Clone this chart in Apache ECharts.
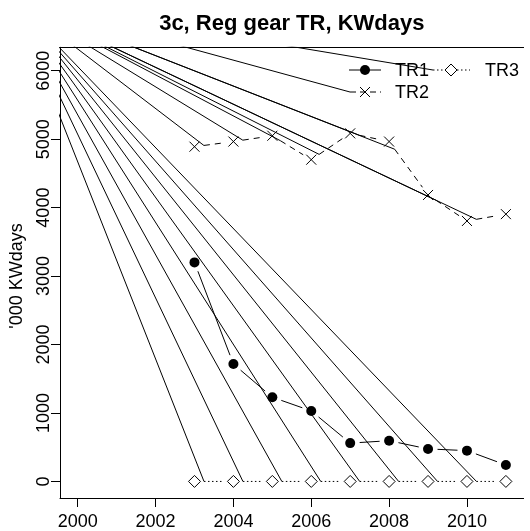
<!DOCTYPE html>
<html><head><meta charset="utf-8">
<script src="https://cdn.jsdelivr.net/npm/echarts@6/dist/echarts.min.js"></script>
<style>html,body{margin:0;padding:0;background:#fff}#c{width:530px;height:531px}</style>
</head><body><div id="c"></div>
<script>
// ---- data ----
const years = [2003, 2004, 2005, 2006, 2007, 2008, 2009, 2010, 2011];
const tr1 = [3200, 1715, 1230, 1030, 560, 595, 475, 450, 240];
const tr2 = [4890, 4965, 5050, 4700, 5085, 4965, 4185, 3805, 3905];
const tr3 = [0, 0, 0, 0, 0, 0, 0, 0, 0];
const seriesNames = ['TR1', 'TR2', 'TR3'];
const xTicks = [2000, 2002, 2004, 2006, 2008, 2010];
const yTicks = [0, 1000, 2000, 3000, 4000, 5000, 6000];
const rayOrigin = [1998.36, 7030];
const titleText = '3c, Reg gear TR, KWdays';
const yTitle = "'000 KWdays";

const FONT = '"Liberation Sans", Arial, Helvetica, sans-serif';
const chart = echarts.init(document.getElementById('c'), null, {renderer: 'canvas'});
const pairs = ys => years.map((x, i) => [x, ys[i]]);
const plain = v => String(v);
const lineBase = {type: 'line', symbol: 'none', showSymbol: false, clip: true, connectNulls: false, silent: true, data: []};

const option = {
  animation: false,
  backgroundColor: '#fff',
  grid: {left: 60, top: 47.3, width: 463.6, height: 451, show: false},
  xAxis: [{
    type: 'value', min: 1999.545, max: 2011.455, position: 'bottom',
    axisLine: {show: true, onZero: false, lineStyle: {color: '#000', width: 1}},
    axisTick: {show: true, length: 9, customValues: xTicks, lineStyle: {color: '#000'}},
    axisLabel: {customValues: xTicks, formatter: plain, fontSize: 18, fontFamily: FONT, color: '#000', margin: 15},
    splitLine: {show: false}
  }, {
    type: 'value', min: 1999.545, max: 2011.455, position: 'top',
    axisLine: {show: true, onZero: false, lineStyle: {color: '#000', width: 1}},
    axisTick: {show: false}, axisLabel: {show: false}, splitLine: {show: false}
  }],
  yAxis: [{
    type: 'value', min: -242, max: 6342, position: 'left',
    axisLine: {show: true, onZero: false, lineStyle: {color: '#000', width: 1}},
    axisTick: {show: true, length: 9, customValues: yTicks, lineStyle: {color: '#000'}},
    axisLabel: {customValues: yTicks, formatter: plain, rotate: 90, fontSize: 18, fontFamily: FONT, color: '#000', margin: 7},
    splitLine: {show: false}
  }],
  graphic: [
    {type: 'text', x: 291.8, y: 24, style: {text: titleText, fill: '#000', font: 'bold 22px ' + FONT, textAlign: 'center', textVerticalAlign: 'middle'}},
    {type: 'text', x: 17, y: 276, rotation: Math.PI / 2, style: {text: yTitle, fill: '#000', font: '18px ' + FONT, textAlign: 'center', textVerticalAlign: 'middle'}},
    // legend
    {type: 'line', shape: {x1: 349, y1: 70, x2: 381, y2: 70}, style: {stroke: '#000', lineWidth: 1}},
    {type: 'circle', shape: {cx: 365, cy: 70, r: 5}, style: {fill: '#000'}},
    {type: 'text', x: 395, y: 71, style: {text: seriesNames[0], fill: '#000', font: '18px ' + FONT, textVerticalAlign: 'middle'}},
    {type: 'line', shape: {x1: 350, y1: 92, x2: 381, y2: 92}, style: {stroke: '#000', lineWidth: 1, lineDash: [6, 4]}},
    {type: 'polyline', shape: {points: [[360, 87], [370, 97]]}, style: {stroke: '#000', lineWidth: 1, fill: null}},
    {type: 'polyline', shape: {points: [[360, 97], [370, 87]]}, style: {stroke: '#000', lineWidth: 1, fill: null}},
    {type: 'text', x: 395, y: 93, style: {text: seriesNames[1], fill: '#000', font: '18px ' + FONT, textVerticalAlign: 'middle'}},
    {type: 'line', shape: {x1: 433, y1: 70, x2: 470, y2: 70}, style: {stroke: '#000', lineWidth: 1, lineDash: [1.5, 2.5]}},
    {type: 'polygon', shape: {points: [[451, 64], [457, 70], [451, 76], [445, 70]]}, style: {fill: '#fff', stroke: '#000', lineWidth: 1}},
    {type: 'text', x: 485, y: 71, style: {text: seriesNames[2], fill: '#000', font: '18px ' + FONT, textVerticalAlign: 'middle'}}
  ],
  series: [
    Object.assign({}, lineBase, {id: 'rays', lineStyle: {color: '#000', width: 1}}),
    Object.assign({}, lineBase, {id: 'seg1', lineStyle: {color: '#000', width: 1}}),
    Object.assign({}, lineBase, {id: 'seg2', lineStyle: {color: '#000', width: 1, type: [6, 5]}}),
    Object.assign({}, lineBase, {id: 'seg3', lineStyle: {color: '#000', width: 1, type: [1.5, 2.5]}}),
    {id: 'p1', name: seriesNames[0], type: 'scatter', data: pairs(tr1), symbol: 'circle', symbolSize: 10,
      itemStyle: {color: '#000', opacity: 1}, silent: true, z: 5},
    {id: 'p2', name: seriesNames[1], type: 'scatter', data: pairs(tr2), symbol: 'path://M0,0L10,10M0,10L10,0', symbolSize: 10,
      itemStyle: {color: 'rgba(0,0,0,0)', borderColor: '#000', borderWidth: 1, opacity: 1}, silent: true, z: 5},
    {id: 'p3', name: seriesNames[2], type: 'scatter', data: pairs(tr3), symbol: 'diamond', symbolSize: [12, 12],
      itemStyle: {color: '#fff', borderColor: '#000', borderWidth: 1, opacity: 1}, silent: true, z: 5}
  ]
};
chart.setOption(option);

const toPx = p => chart.convertToPixel({gridIndex: 0}, p);
const toData = p => chart.convertFromPixel({gridIndex: 0}, p);
const GAP = 9.5;
function gapped(ys) {
  const pts = years.map((x, i) => toPx([x, ys[i]]));
  const segs = [], starts = [];
  for (let i = 0; i < pts.length - 1; i++) {
    const [x0, y0] = pts[i], [x1, y1] = pts[i + 1];
    const dx = x1 - x0, dy = y1 - y0, d = Math.hypot(dx, dy);
    if (d <= 2 * GAP) continue;
    const ux = dx / d, uy = dy / d;
    const a = toData([x0 + ux * GAP, y0 + uy * GAP]);
    const b = toData([x1 - ux * GAP, y1 - uy * GAP]);
    segs.push(a, b, ['-', '-']);
    starts.push(a);
  }
  return {segs, starts};
}
const g1 = gapped(tr1), g2 = gapped(tr2), g3 = gapped(tr3);
const rayTargets = g2.starts.concat(g3.starts, [toData([350, 92]), toData([433, 70])]);
const rays = [];
rayTargets.forEach(t => { rays.push(rayOrigin, t, ['-', '-']); });
chart.setOption({series: [
  {id: 'rays', data: rays},
  {id: 'seg1', data: g1.segs},
  {id: 'seg2', data: g2.segs},
  {id: 'seg3', data: g3.segs}
]});
</script></body></html>
